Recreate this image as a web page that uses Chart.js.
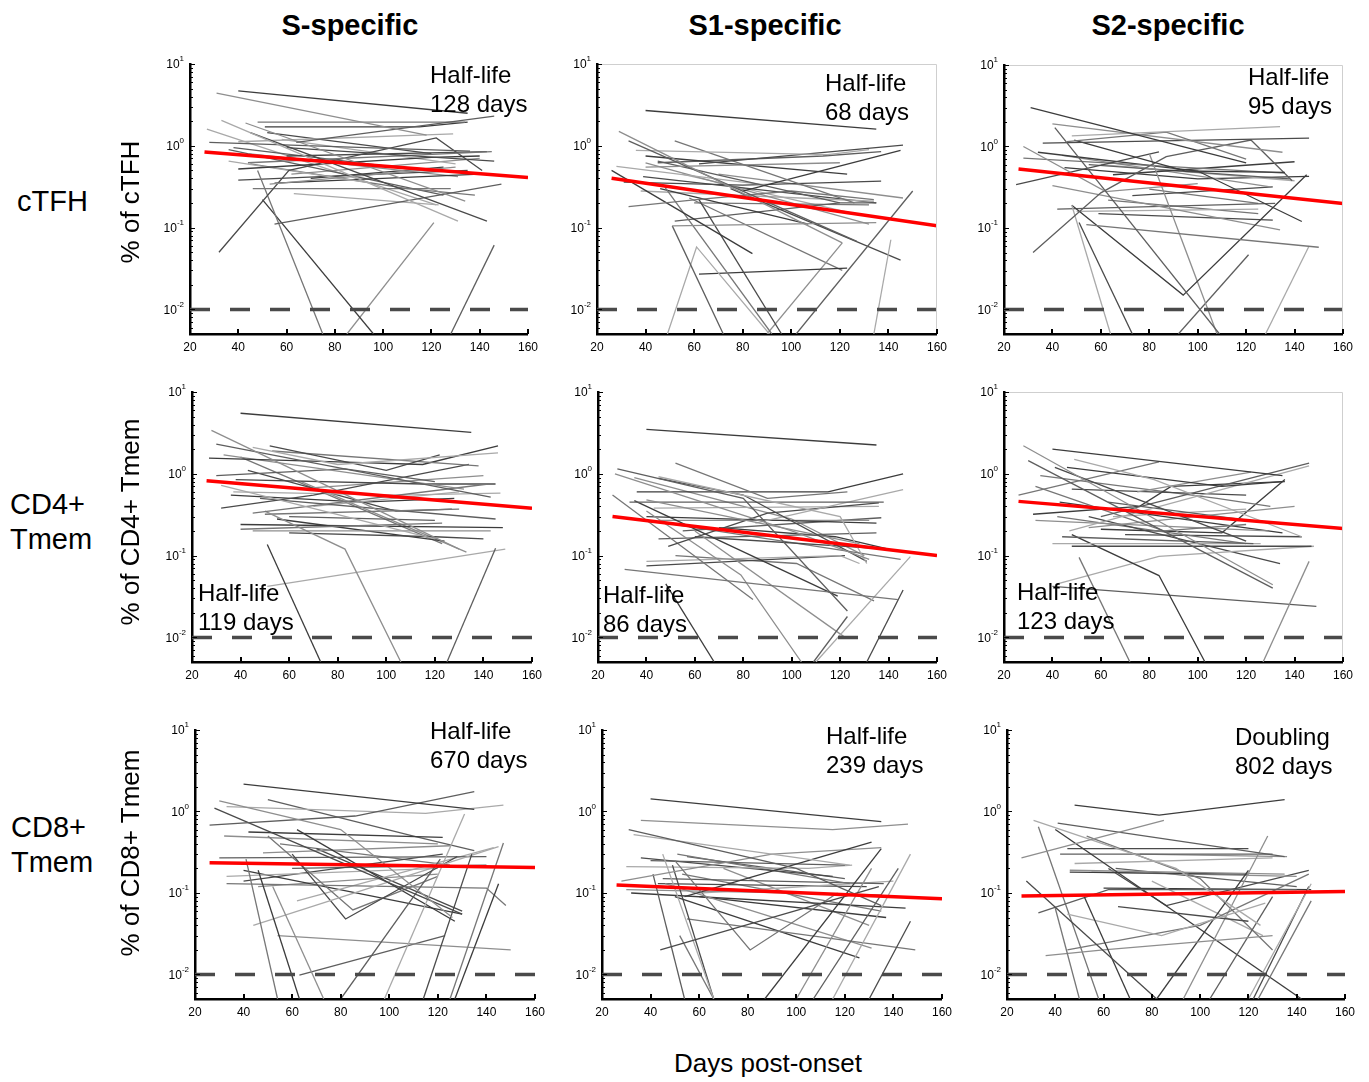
<!DOCTYPE html>
<html>
<head>
<meta charset="utf-8">
<script src="https://cdn.jsdelivr.net/npm/chart.js@4.4.0/dist/chart.umd.min.js"></script>
<style>
  body { margin: 0; width: 1369px; height: 1082px; background: #fff; position: relative; overflow: hidden;
         font-family: "Liberation Sans", Arial, sans-serif; }
  canvas.panel { position: absolute; }
  .t { position: absolute; white-space: nowrap; color: #000; }
  .col { font-weight: bold; font-size: 29px; transform: translate(-50%, -50%); }
  .row { font-size: 29px; line-height: 35px; }
  .ytitle { font-size: 26px; transform: translate(-50%, -50%) rotate(-90deg); }
  .note { font-size: 24px; line-height: 29px; }
</style>
</head>
<body>
<script>
'use strict';

// x positions of the fitted (red) line and of the limit of detection
const fitDays = [26, 160];
const lodDays = [20, 160];
const detectionLimit = 0.01;

const xTicks = [20, 40, 60, 80, 100, 120, 140, 160];
const yDecades = [0.01, 0.1, 1, 10];

const colTitles = ['S-specific', 'S1-specific', 'S2-specific'];
const rowTitles = ['cTFH', 'CD4+\nTmem', 'CD8+\nTmem'];
const yTitles = ['% of cTFH', '% of CD4+ Tmem', '% of CD8+ Tmem'];
const notes = [
	'Half-life\n128 days', 'Half-life\n68 days', 'Half-life\n95 days',
	'Half-life\n119 days', 'Half-life\n86 days', 'Half-life\n123 days',
	'Half-life\n670 days', 'Half-life\n239 days', 'Doubling\n802 days'
];

// fitted values at fitDays
const fitSCtfh = [0.84, 0.41];
const fitS1Ctfh = [0.40, 0.105];
const fitS2Ctfh = [0.53, 0.20];
const fitSCd4 = [0.82, 0.38];
const fitS1Cd4 = [0.30, 0.10];
const fitS2Cd4 = [0.46, 0.215];
const fitSCd8 = [0.235, 0.205];
const fitS1Cd8 = [0.125, 0.085];
const fitS2Cd8 = [0.092, 0.104];

// per-donor tracks: [day, % of parent]
const sCtfh = [
	[[40, 4.7], [135, 2.5]], [[31, 4.4], [118, 1.35]], [[64, 1.1], [146, 2.3]], [[33, 2.05], [131, 0.12]],
	[[45, 1.45], [143, 0.12]], [[48, 1.95], [134, 1.95]], [[51, 1.7], [115, 1.7], [135, 1.95]], [[43, 1.9], [134, 0.21]],
	[[28, 1.1], [136, 0.86]], [[40, 1.12], [129, 1.4]], [[60, 0.95], [146, 0.65]], [[44, 0.62], [145, 0.85]],
	[[40, 0.52], [120, 0.72], [140, 0.75]], [[53, 0.34], [130, 0.55]], [[55, 0.11], [149, 0.34]], [[63, 0.26], [123, 0.19]],
	[[32, 0.05], [61, 0.5], [122, 1.25], [141, 0.5]], [[48, 0.5], [75, 0.005]], [[50, 0.22], [96, 0.005]],
	[[85, 0.005], [121, 0.115]], [[128, 0.005], [146, 0.061]], [[36, 0.65], [95, 0.35]], [[40, 0.38], [135, 0.5]],
	[[45, 0.6], [110, 0.3], [138, 0.25]], [[55, 0.35], [140, 0.45]], [[44, 0.8], [131, 0.42]], [[36, 0.9], [125, 0.25]],
	[[58, 1.2], [130, 0.6]], [[60, 0.75], [143, 0.85]], [[46, 0.3], [128, 0.3]], [[70, 0.4], [125, 0.55]],
	[[62, 0.45], [140, 0.7]], [[38, 0.95], [105, 0.55]], [[27, 1.6], [122, 0.19]], [[52, 1.45], [120, 0.8]]
];
const s1Ctfh = [
	[[40, 2.7], [135, 1.6]], [[29, 1.5], [121, 0.065]], [[33, 1.15], [127, 0.068]], [[36, 0.88], [115, 0.78], [132, 0.9]],
	[[62, 0.6], [146, 1.02]], [[52, 1.15], [126, 0.2]], [[80, 0.28], [145, 0.88]], [[40, 0.55], [120, 0.62]],
	[[45, 0.65], [120, 0.2]], [[28, 0.56], [90, 0.33]], [[31, 0.36], [80, 0.33], [137, 0.37]],
	[[33, 0.18], [61, 0.22], [100, 0.28], [134, 0.22]], [[26, 0.5], [84, 0.048]], [[51, 0.105], [135, 0.115]],
	[[51, 0.105], [72, 0.005]], [[49, 0.005], [61, 0.058], [91, 0.005]], [[62, 0.22], [96, 0.005]],
	[[48, 0.31], [92, 0.005]], [[62, 0.027], [123, 0.032]], [[90, 0.005], [121, 0.065]], [[102, 0.005], [150, 0.28]],
	[[134, 0.005], [141, 0.071]], [[75, 0.3], [145, 0.04]], [[58, 0.23], [121, 0.03]], [[46, 0.3], [107, 0.11]],
	[[40, 0.62], [132, 0.11]], [[52, 0.12], [120, 0.2], [135, 0.2]], [[38, 0.28], [134, 0.21]], [[39, 0.42], [135, 0.2]],
	[[60, 0.2], [132, 0.19]], [[40, 0.75], [123, 0.45]], [[70, 0.45], [146, 0.23]], [[45, 0.62], [113, 0.75], [137, 0.85]],
	[[55, 0.45], [125, 0.15]]
];
const s2Ctfh = [
	[[31, 3.0], [120, 0.63]], [[40, 1.9], [135, 0.85]], [[41, 1.7], [109, 0.005]], [[48, 1.35], [134, 1.75]],
	[[36, 1.1], [146, 1.27]], [[46, 1.15], [87, 1.5], [120, 0.7]], [[49, 1.2], [95, 0.5], [136, 0.48]],
	[[28, 1.0], [62, 0.28], [100, 0.35]], [[32, 0.05], [60, 0.27], [87, 0.75], [122, 1.2], [139, 0.38]],
	[[48, 0.19], [64, 0.005]], [[51, 0.117], [73, 0.005]], [[54, 0.11], [150, 0.058]],
	[[48, 0.19], [94, 0.015], [145, 0.45]], [[80, 0.82], [108, 0.005]], [[92, 0.005], [121, 0.047]],
	[[128, 0.005], [146, 0.06]], [[25, 0.34], [84, 0.86]], [[28, 0.72], [136, 0.47]], [[34, 0.85], [100, 0.5], [143, 0.12]],
	[[40, 0.33], [134, 0.095]], [[42, 0.17], [132, 0.2]], [[50, 0.16], [125, 0.17]], [[59, 0.15], [131, 0.125]],
	[[63, 0.22], [125, 0.15]], [[65, 0.45], [140, 0.65]], [[44, 0.78], [130, 0.32]], [[55, 0.6], [138, 0.4]],
	[[60, 0.6], [140, 0.38]], [[73, 0.25], [131, 0.32]], [[80, 0.3], [125, 0.2]], [[45, 0.55], [100, 0.4], [146, 0.43]]
];
const sCd4 = [
	[[40, 5.5], [135, 3.2]], [[28, 3.4], [130, 0.12]], [[30, 2.3], [143, 0.52]], [[45, 2.1], [80, 1.3], [146, 1.8]],
	[[52, 2.2], [100, 1.1], [122, 1.7]], [[53, 1.9], [138, 1.25]], [[27, 1.55], [80, 1.4], [115, 1.3], [146, 2.2]],
	[[33, 1.7], [132, 0.65]], [[30, 0.95], [83, 1.15], [120, 0.8]], [[32, 0.72], [120, 0.16]],
	[[32, 0.38], [70, 0.55], [134, 1.3]], [[45, 0.33], [142, 0.75]], [[51, 0.137], [73, 0.005]],
	[[50, 0.35], [83, 0.12], [106, 0.005]], [[125, 0.005], [145, 0.123]], [[51, 0.042], [149, 0.12]],
	[[60, 0.19], [120, 0.17], [140, 0.16]], [[40, 0.21], [123, 0.25]], [[40, 0.24], [148, 0.22]], [[45, 0.2], [143, 0.2]],
	[[60, 0.3], [120, 0.27]], [[37, 0.6], [105, 0.55], [147, 0.58]], [[38, 0.85], [115, 0.75], [145, 0.75]],
	[[50, 0.32], [130, 0.37]], [[55, 0.28], [124, 0.15]], [[65, 0.8], [133, 0.11]], [[48, 0.5], [145, 0.28]],
	[[70, 0.4], [130, 0.6]], [[43, 1.1], [104, 0.35], [127, 0.37]], [[40, 1.6], [123, 0.14]],
	[[36, 0.55], [90, 0.45], [128, 0.5]], [[62, 0.65], [140, 0.95]]
];
const s1Cd4 = [
	[[40, 3.5], [135, 2.25]], [[27, 1.0], [100, 0.2], [132, 0.09]], [[28, 1.15], [80, 0.5], [123, 0.021]],
	[[45, 0.92], [120, 0.3], [131, 0.08]], [[45, 0.88], [80, 0.55], [131, 0.085]], [[52, 1.35], [90, 0.5], [123, 0.6]],
	[[36, 0.6], [115, 0.6], [146, 1.0]], [[40, 0.48], [128, 0.14]], [[33, 0.45], [138, 0.45]], [[85, 0.25], [146, 0.64]],
	[[49, 0.13], [90, 0.33], [136, 0.44]], [[31, 0.068], [144, 0.029]], [[48, 0.045], [68, 0.005]],
	[[40, 0.35], [79, 0.058], [104, 0.005]], [[109, 0.005], [123, 0.018]], [[110, 0.005], [149, 0.097]],
	[[131, 0.005], [146, 0.038]], [[26, 0.55], [84, 0.029]], [[35, 0.47], [119, 0.032]], [[60, 0.2], [122, 0.01]],
	[[45, 0.16], [135, 0.19]], [[40, 0.085], [120, 0.1], [128, 0.08]], [[40, 0.075], [122, 0.1]],
	[[52, 0.1], [102, 0.08], [134, 0.028]], [[40, 0.3], [135, 0.25]], [[45, 0.27], [132, 0.27]], [[55, 0.2], [137, 0.29]],
	[[43, 0.38], [136, 0.4]], [[60, 0.17], [140, 0.12]], [[48, 0.25], [145, 0.09]], [[70, 0.22], [118, 0.17], [140, 0.12]],
	[[35, 0.9], [100, 0.28], [130, 0.1]]
];
const s2Cd4 = [
	[[40, 2.0], [135, 0.95]], [[28, 2.2], [131, 0.044]], [[30, 1.45], [131, 0.04]], [[49, 1.5], [82, 0.85], [143, 0.17]],
	[[41, 1.2], [120, 0.15]], [[26, 0.55], [84, 1.4]], [[46, 1.2], [110, 0.7], [135, 0.8]], [[75, 0.6], [122, 1.05]],
	[[60, 0.3], [146, 1.35]], [[47, 0.2], [146, 1.25]], [[48, 0.65], [120, 0.55]], [[33, 0.7], [86, 0.2], [120, 0.24]],
	[[32, 0.32], [76, 0.4], [89, 0.7], [136, 0.8]], [[33, 0.27], [129, 0.2]], [[44, 0.17], [123, 0.14]],
	[[40, 0.14], [126, 0.14]], [[48, 0.13], [147, 0.13]], [[51, 0.095], [72, 0.005]],
	[[48, 0.18], [84, 0.057], [103, 0.005]], [[127, 0.005], [146, 0.085]], [[40, 0.042], [149, 0.024]],
	[[42, 0.045], [84, 0.098], [148, 0.13]], [[55, 0.3], [134, 0.08]], [[42, 0.3], [120, 0.14]], [[43, 0.45], [135, 0.19]],
	[[55, 0.22], [140, 0.4]], [[63, 0.45], [130, 0.25]], [[65, 0.3], [120, 0.37]], [[70, 0.18], [143, 0.17]],
	[[35, 0.95], [108, 0.5], [130, 0.4]], [[60, 0.21], [110, 0.19], [136, 0.85]]
];
const sCd8 = [
	[[40, 2.17], [135, 1.06]], [[30, 1.35], [80, 0.6], [126, 0.05]], [[26, 0.68], [86, 0.88], [135, 1.75]],
	[[33, 1.15], [115, 0.95], [147, 1.2]], [[28, 1.1], [130, 0.055]], [[41, 0.26], [54, 0.005]], [[46, 0.19], [63, 0.005]],
	[[52, 0.12], [73, 0.005]], [[80, 0.005], [121, 0.26]], [[98, 0.005], [131, 0.93]], [[114, 0.005], [134, 0.3]],
	[[125, 0.005], [147, 0.41]], [[127, 0.005], [145, 0.13]], [[54, 0.03], [150, 0.02]], [[63, 0.0098], [123, 0.03]],
	[[44, 0.04], [145, 0.37]], [[60, 0.3], [82, 0.048], [128, 0.28]], [[50, 0.5], [85, 0.062], [120, 0.16]],
	[[62, 0.6], [127, 0.045]], [[32, 0.5], [120, 0.4]], [[30, 0.27], [140, 0.28]], [[33, 0.16], [120, 0.2]],
	[[40, 0.14], [122, 0.3]], [[33, 0.13], [140, 0.115], [148, 0.07]], [[42, 0.56], [122, 0.48]], [[48, 0.31], [125, 0.38]],
	[[60, 0.2], [140, 0.22]], [[62, 0.08], [143, 0.36]], [[70, 0.35], [130, 0.06]], [[55, 0.4], [125, 0.22]],
	[[40, 0.19], [130, 0.055]], [[46, 0.12], [120, 0.17]], [[50, 1.4], [110, 0.5], [135, 0.33]]
];
const s1Cd8 = [
	[[40, 1.43], [135, 0.75]], [[36, 0.78], [115, 0.6], [146, 0.7]], [[31, 0.6], [100, 0.2], [135, 0.07]],
	[[33, 0.52], [122, 0.22]], [[44, 0.02], [134, 0.12]], [[50, 0.25], [81, 0.02], [117, 0.1]], [[54, 0.09], [131, 0.42]],
	[[28, 0.14], [90, 0.3], [135, 0.36]], [[41, 0.17], [54, 0.005]], [[45, 0.3], [66, 0.005]], [[49, 0.22], [66, 0.005]],
	[[52, 0.03], [66, 0.005]], [[87, 0.005], [135, 0.35]], [[100, 0.005], [131, 0.2]], [[107, 0.005], [142, 0.2]],
	[[115, 0.005], [147, 0.3]], [[130, 0.005], [147, 0.045]], [[55, 0.048], [149, 0.02]], [[50, 0.09], [126, 0.016]],
	[[46, 0.13], [131, 0.021]], [[40, 0.25], [120, 0.22]], [[30, 0.21], [105, 0.2], [123, 0.22]], [[36, 0.27], [115, 0.16]],
	[[51, 0.3], [122, 0.13]], [[32, 0.1], [145, 0.065]], [[30, 0.11], [135, 0.095]], [[45, 0.15], [136, 0.13]],
	[[60, 0.1], [140, 0.14]], [[43, 0.13], [129, 0.12]], [[53, 0.17], [135, 0.06]], [[60, 0.09], [137, 0.05]],
	[[70, 0.2], [130, 0.04]], [[55, 0.28], [120, 0.15]]
];
const s2Cd8 = [
	[[48, 1.2], [83, 0.9], [135, 1.4]], [[26, 0.27], [85, 0.78]], [[41, 0.72], [135, 0.28]],
	[[31, 0.78], [90, 0.2], [125, 0.04]], [[28, 0.14], [82, 0.005]], [[40, 0.065], [50, 0.005]], [[52, 0.09], [71, 0.005]],
	[[36, 0.017], [60, 0.02], [130, 0.03]], [[33, 0.057], [62, 0.11], [140, 0.11]], [[45, 0.055], [84, 0.03], [127, 0.075]],
	[[66, 0.068], [120, 0.045]], [[45, 0.02], [100, 0.04], [145, 0.17]], [[82, 0.005], [120, 0.19]],
	[[93, 0.005], [128, 0.5]], [[104, 0.005], [130, 0.09]], [[120, 0.005], [146, 0.13]], [[122, 0.005], [145, 0.12]],
	[[124, 0.005], [146, 0.08]], [[40, 0.6], [142, 0.005]], [[46, 0.19], [135, 0.17]], [[42, 0.3], [130, 0.3]],
	[[48, 0.23], [130, 0.27]], [[45, 0.35], [120, 0.35]], [[53, 0.5], [100, 0.15], [130, 0.02]], [[46, 0.18], [120, 0.17]],
	[[55, 0.18], [140, 0.16]], [[65, 0.2], [140, 0.12]], [[80, 0.14], [126, 0.03]], [[62, 0.2], [86, 0.07], [145, 0.19]],
	[[33, 0.65], [58, 0.005]], [[60, 0.115], [146, 0.11]], [[75, 0.3], [136, 0.28]]
];

const shades = ['#3c3c3c', '#8e8e8e', '#5e5e5e', '#a9a9a9', '#4a4a4a', '#767676'];

// plot rectangles [left, top, right, bottom] in page pixels
const panels = [
	{tracks: sCtfh, fit: fitSCtfh, rect: [190, 64, 528, 334], box: false, note: [430, 74]},
	{tracks: s1Ctfh, fit: fitS1Ctfh, rect: [597, 64, 937, 334], box: true, note: [825, 82]},
	{tracks: s2Ctfh, fit: fitS2Ctfh, rect: [1004, 65, 1343, 334], box: true, note: [1248, 76]},
	{tracks: sCd4, fit: fitSCd4, rect: [192, 392, 532, 662], box: false, note: [198, 592]},
	{tracks: s1Cd4, fit: fitS1Cd4, rect: [598, 392, 937, 662], box: false, note: [603, 594]},
	{tracks: s2Cd4, fit: fitS2Cd4, rect: [1004, 392, 1343, 662], box: true, note: [1017, 591]},
	{tracks: sCd8, fit: fitSCd8, rect: [195, 730, 535, 999], box: false, note: [430, 730]},
	{tracks: s1Cd8, fit: fitS1Cd8, rect: [602, 730, 942, 999], box: false, note: [826, 735]},
	{tracks: s2Cd8, fit: fitS2Cd8, rect: [1007, 730, 1345, 999], box: false, note: [1235, 736]}
];

// MATLAB-like inward ticks, superscript decade labels and the optional light box
const axisDecor = {
	id: 'axisDecor',
	afterDraw(chart, args, opts) {
		const {ctx, chartArea: a, scales: {x, y}} = chart;
		ctx.save();
		if (opts.box) {
			ctx.strokeStyle = '#cfcfcf';
			ctx.lineWidth = 1;
			ctx.beginPath();
			ctx.moveTo(a.left, a.top + 0.5);
			ctx.lineTo(a.right - 0.5, a.top + 0.5);
			ctx.lineTo(a.right - 0.5, a.bottom);
			ctx.stroke();
		}
		ctx.strokeStyle = '#000';
		ctx.lineWidth = 1.2;
		ctx.beginPath();
		for (let e = -3; e <= 1; e++) {
			for (let k = 1; k <= 9; k++) {
				const v = k * Math.pow(10, e);
				if (v < y.min * 0.999 || v > y.max * 1.001) continue;
				const py = Math.round(y.getPixelForValue(v)) + 0.5;
				const len = k === 1 ? 5 : 3;
				ctx.moveTo(a.left, py);
				ctx.lineTo(a.left + len, py);
			}
		}
		ctx.stroke();
		ctx.lineWidth = 2;
		ctx.beginPath();
		xTicks.forEach((v) => {
			const px = Math.round(x.getPixelForValue(v));
			ctx.moveTo(px, a.bottom);
			ctx.lineTo(px, a.bottom - 5);
		});
		ctx.stroke();

		ctx.fillStyle = '#000';
		ctx.textBaseline = 'middle';
		yDecades.forEach((v) => {
			const py = y.getPixelForValue(v);
			const exp = String(Math.round(Math.log10(v)));
			ctx.font = '8px "Liberation Sans", Arial, sans-serif';
			const ew = ctx.measureText(exp).width;
			ctx.textAlign = 'left';
			const right = a.left - 6;
			ctx.fillText(exp, right - ew, py - 5);
			ctx.font = '12px "Liberation Sans", Arial, sans-serif';
			ctx.textAlign = 'right';
			ctx.fillText('10', right - ew, py + 1);
		});
		ctx.restore();
	}
};

function makePanel(p) {
	const [L, T, R, B] = p.rect;
	const padL = 45, padT = 12, padR = 16, padB = 26;
	const cv = document.createElement('canvas');
	cv.className = 'panel';
	cv.width = R - L + padL + padR;
	cv.height = B - T + padT + padB;
	cv.style.left = (L - padL) + 'px';
	cv.style.top = (T - padT) + 'px';
	document.body.appendChild(cv);

	const datasets = [
		{
			data: fitDays.map((d, i) => ({x: d, y: p.fit[i]})),
			borderColor: '#ff0000',
			borderWidth: 3.5,
			order: 0
		},
		{
			data: lodDays.map((d) => ({x: d, y: detectionLimit})),
			borderColor: '#4a4a4a',
			borderWidth: 3.5,
			borderDash: [20, 20],
			order: 1
		}
	];
	p.tracks.forEach((tr, i) => {
		datasets.push({
			data: tr.map(([d, v]) => ({x: d, y: v})),
			borderColor: shades[i % shades.length],
			borderWidth: 1.3,
			order: 2
		});
	});

	new Chart(cv, {
		type: 'line',
		data: {datasets},
		options: {
			responsive: false,
			animation: false,
			events: [],
			elements: {point: {radius: 0}, line: {tension: 0, borderCapStyle: 'butt'}},
			layout: {autoPadding: false, padding: {left: 0, top: padT, right: padR, bottom: 0}},
			plugins: {legend: {display: false}, tooltip: {enabled: false}, axisDecor: {box: p.box}},
			scales: {
				x: {
					type: 'linear',
					min: 20,
					max: 160,
					afterBuildTicks: (s) => { s.ticks = xTicks.map((v) => ({value: v})); },
					afterFit: (s) => { s.height = padB; },
					ticks: {color: '#000', font: {size: 12, family: '"Liberation Sans", Arial'}, padding: 6, maxRotation: 0, autoSkip: false},
					grid: {drawOnChartArea: false, drawTicks: false},
					border: {color: '#000', width: 2.5}
				},
				y: {
					type: 'logarithmic',
					min: 0.005,
					max: 10,
					afterBuildTicks: (s) => { s.ticks = yDecades.map((v) => ({value: v})); },
					afterFit: (s) => { s.width = padL; },
					ticks: {display: false},
					grid: {drawOnChartArea: false, drawTicks: false},
					border: {color: '#000', width: 2.5}
				}
			}
		},
		plugins: [axisDecor]
	});
}

function addText(cls, text, css) {
	const d = document.createElement('div');
	d.className = 't ' + cls;
	d.innerHTML = text.split('\n').join('<br>');
	Object.assign(d.style, css);
	document.body.appendChild(d);
	return d;
}

panels.forEach(makePanel);

[350, 765, 1168].forEach((cx, i) => addText('col', colTitles[i], {left: cx + 'px', top: '25px'}));
addText('row', rowTitles[0], {left: '17px', top: '184px'});
addText('row', rowTitles[1], {left: '10px', top: '487px'});
addText('row', rowTitles[2], {left: '11px', top: '810px'});
[202, 522, 853].forEach((cy, i) => addText('ytitle', yTitles[i], {left: '130px', top: cy + 'px'}));
addText('col', 'Days post-onset', {left: '768px', top: '1063px', fontWeight: 'normal', fontSize: '26px'});
panels.forEach((p, i) => addText('note', notes[i], {left: p.note[0] + 'px', top: (p.note[1] - 14.5) + 'px'}));
</script>
</body>
</html>
